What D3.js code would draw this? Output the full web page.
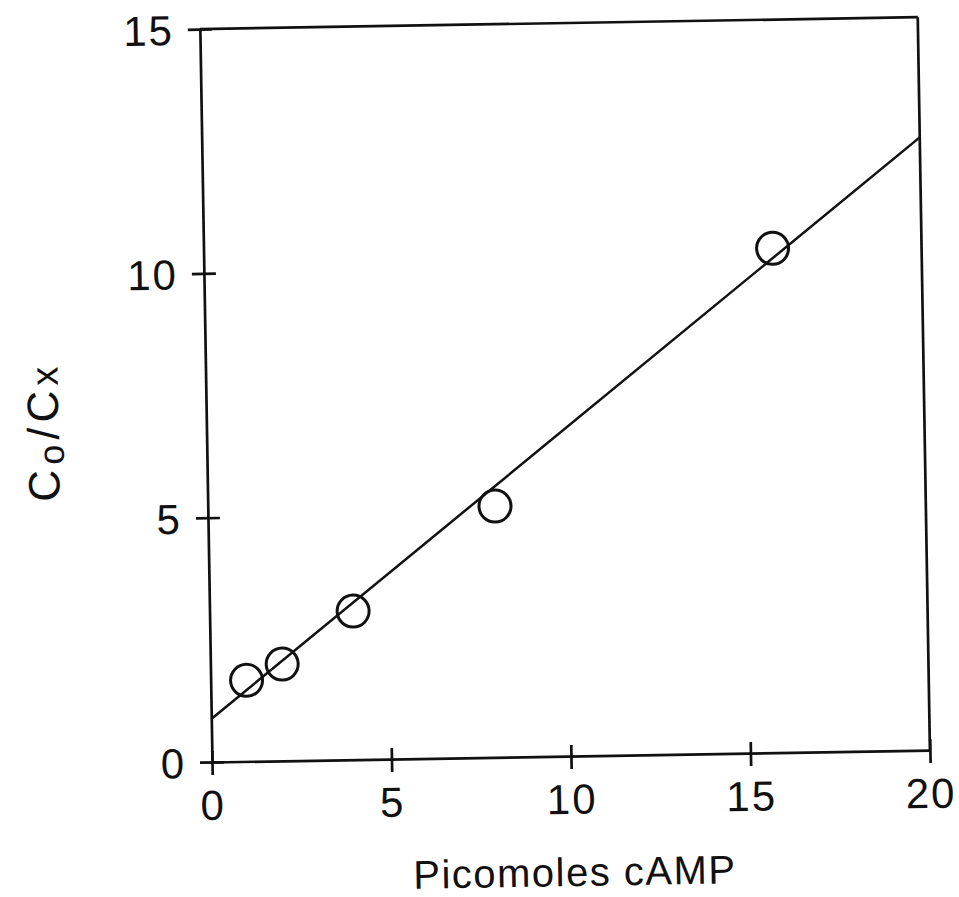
<!DOCTYPE html>
<html>
<head>
<meta charset="utf-8">
<script src="https://cdn.jsdelivr.net/npm/d3@7"></script>
<style>
  html, body { margin: 0; padding: 0; background: #fff; }
  svg { display: block; }
  text { font-family: "Liberation Sans", Arial, sans-serif; fill: #111; }
</style>
</head>
<body>
<script>
// data
const xTicks = [0, 5, 10, 15, 20];
const yTicks = [0, 5, 10, 15];
const pointX = [1, 2, 4, 8, 15.85];
const pointY = [1.66, 1.98, 3.04, 5.14, 10.32];
// fitted line end points
const fitX = [0, 20];
const fitY = [0.88, 12.54];

const width = 959;
const height = 897;
const origin = { x: 212, y: 762 };
const plotW = 718;
const plotH = 733;

const svg = d3
  .select("body")
  .append("svg")
  .attr("width", width)
  .attr("height", height);

// the scan is slightly tilted, so rotate the whole figure a little
const g = svg
  .append("g")
  .attr("transform", `rotate(-0.95, ${origin.x}, ${origin.y})`);

const x = d3.scaleLinear().domain([0, 20]).range([origin.x, origin.x + plotW]);
const y = d3.scaleLinear().domain([0, 15]).range([origin.y, origin.y - plotH]);

// frame (top and right)
g.append("line")
  .attr("x1", x(0)).attr("x2", x(20))
  .attr("y1", y(15)).attr("y2", y(15))
  .attr("stroke", "#111").attr("stroke-width", 2.7);
g.append("line")
  .attr("x1", x(20)).attr("x2", x(20))
  .attr("y1", y(0)).attr("y2", y(15))
  .attr("stroke", "#111").attr("stroke-width", 2.7);

// bottom axis
const xAxis = g
  .append("g")
  .attr("transform", `translate(0,${y(0)})`)
  .call(d3.axisBottom(x).tickValues(xTicks).tickSizeInner(13).tickSizeOuter(0).tickPadding(15).tickFormat(d3.format("d")));
xAxis.selectAll(".tick line").attr("y1", -11);

// left axis
const yAxis = g
  .append("g")
  .attr("transform", `translate(${x(0)},0)`)
  .call(d3.axisLeft(y).tickValues(yTicks).tickSizeInner(12).tickSizeOuter(0).tickPadding(14).tickFormat(d3.format("d")));
yAxis.selectAll(".tick line").attr("x1", 12);

[xAxis, yAxis].forEach((ax) => {
  ax.select(".domain").attr("stroke", "#111").attr("stroke-width", 2.7);
  ax.selectAll(".tick line").attr("stroke", "#111").attr("stroke-width", 2.7);
  ax.selectAll(".tick text")
    .attr("font-size", 42)
    .attr("letter-spacing", 2)
    .attr("font-family", "Liberation Sans, Arial, sans-serif")
    .attr("fill", "#111");
});
yAxis.selectAll(".tick text").attr("dy", "0.36em");

// regression line
g.append("path")
  .datum(fitX.map((d, i) => [d, fitY[i]]))
  .attr("fill", "none")
  .attr("stroke", "#111")
  .attr("stroke-width", 2.5)
  .attr("d", d3.line().x((d) => x(d[0])).y((d) => y(d[1])));

// data points
g.selectAll("circle.pt")
  .data(pointX.map((d, i) => ({ x: d, y: pointY[i] })))
  .enter()
  .append("circle")
  .attr("class", "pt")
  .attr("cx", (d) => x(d.x))
  .attr("cy", (d) => y(d.y))
  .attr("r", 16)
  .attr("fill", "none")
  .attr("stroke", "#111")
  .attr("stroke-width", 3);

// axis titles
g.append("text")
  .attr("x", 573)
  .attr("y", 892)
  .attr("text-anchor", "middle")
  .attr("font-size", 40)
  .attr("letter-spacing", 1.5)
  .text("Picomoles cAMP");

const yt = g
  .append("text")
  .attr("transform", "translate(64,429) rotate(-90)")
  .attr("text-anchor", "middle")
  .attr("font-size", 44)
  .attr("letter-spacing", 5);
yt.append("tspan").text("C");
yt.append("tspan").attr("font-size", 36).attr("dy", 5).text("o");
yt.append("tspan").attr("dy", -5).text("/C");
yt.append("tspan").attr("font-size", 38).text("x");
</script>
</body>
</html>
